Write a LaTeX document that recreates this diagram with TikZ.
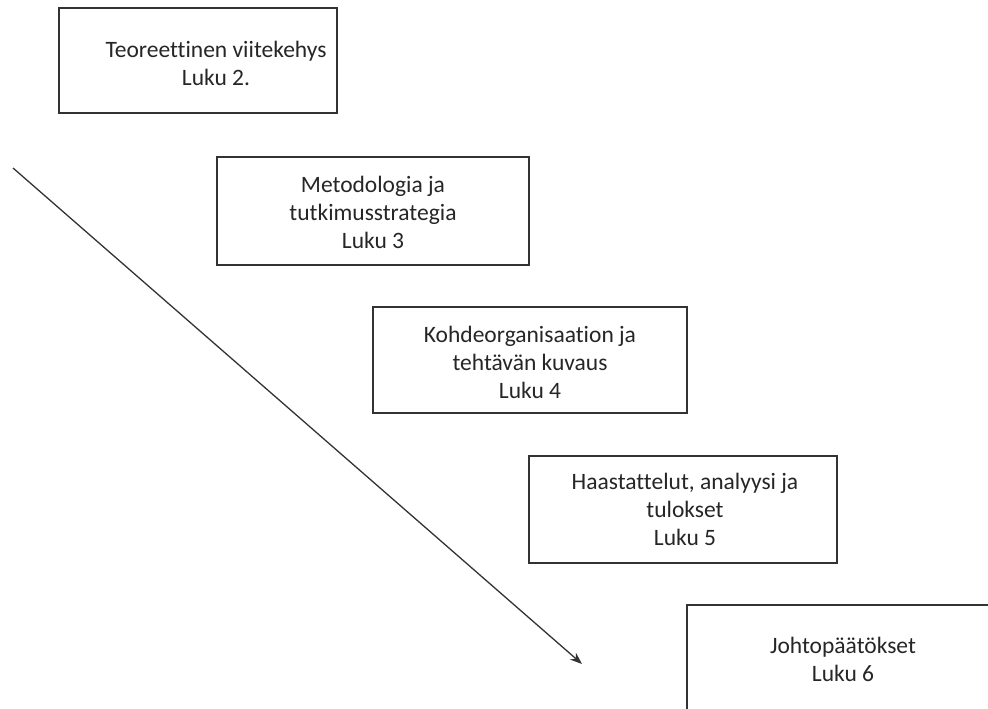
\documentclass[tikz,border=0pt]{standalone}
\usepackage{fontspec}
\setmainfont{Carlito}[Ligatures={NoCommon}]
\usetikzlibrary{arrows.meta}
\begin{document}
\begin{tikzpicture}[x=1pt,y=-1pt,
  box/.style={draw=black!80, line width=1.3pt, fill=white, inner sep=0pt},
  lbl/.style={align=center, font=\fontsize{23.5}{28}\selectfont, text=black!85, inner sep=0pt}]
\useasboundingbox (0,0) rectangle (988,709);
\node[box, minimum width=278pt, minimum height=105pt] (b1) at (198,60.5) {};
\node[box, minimum width=312pt, minimum height=108pt] (b2) at (373,211) {};
\node[box, minimum width=314pt, minimum height=106pt] (b3) at (530,360) {};
\node[box, minimum width=308pt, minimum height=107pt] (b4) at (683,509.5) {};
\node[box, minimum width=313pt, minimum height=125pt] (b5) at (843.5,667.5) {};
\node[lbl] (t1) at (216,63.5) {Teoreettinen viitekehys\\Luku 2.};
\node[lbl] (t2) at (373,212) {Metodologia ja\\tutkimusstrategia\\Luku 3};
\node[lbl] (t3) at (530,362) {Kohdeorganisaation ja\\tehtävän kuvaus\\Luku 4};
\node[lbl] (t4) at (685,509.5) {Haastattelut, analyysi ja\\tulokset\\Luku 5};
\node[lbl] (t5) at (843,659) {Johtopäätökset\\Luku 6};
\coordinate (s) at (13,168);
\coordinate (e) at (582,664);
\draw[line width=1.3pt, draw=black!80, -{Stealth[length=12pt,width=9pt]}] (s) -- (e);
\end{tikzpicture}
\end{document}
